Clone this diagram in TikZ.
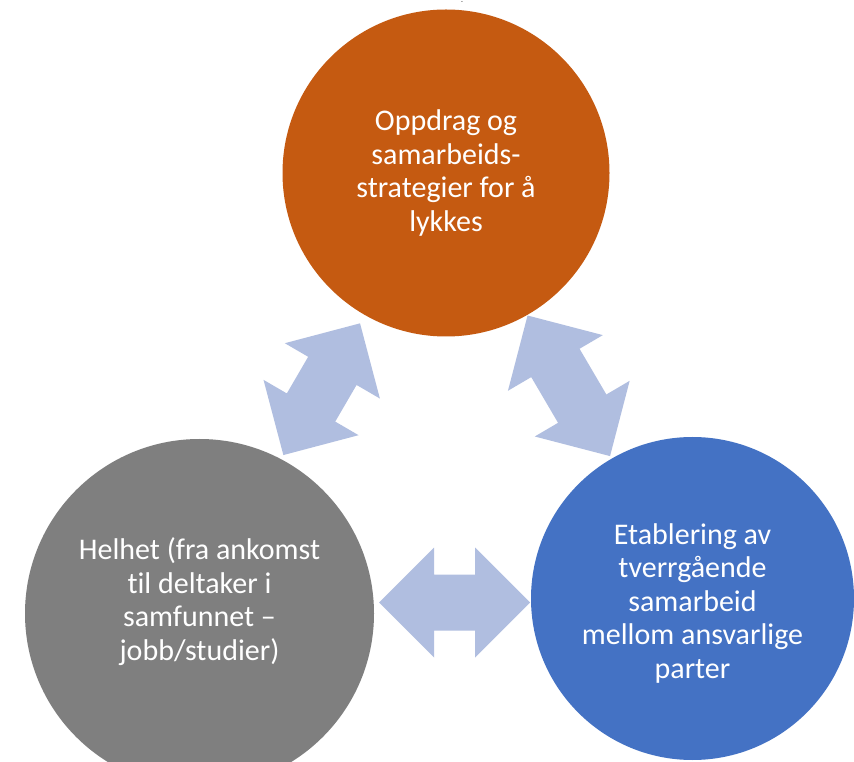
\documentclass[tikz,border=0pt]{standalone}
\usepackage{fontspec}
\setmainfont{Carlito}[RawFeature={-liga}]
\definecolor{orangec}{HTML}{C55A11}
\definecolor{grayc}{HTML}{7F7F7F}
\definecolor{bluec}{HTML}{4472C4}
\definecolor{arrowc}{HTML}{B0BEE0}
\tikzset{
  bubble/.style={circle, inner sep=0pt, draw=none},
  txt/.style={text=white, align=center, inner sep=0pt, font=\fontsize{30}{33.5}\selectfont},
  arrowfill/.style={fill=arrowc, draw=none}
}
% #1,#2 centre, #3 angle, #4 half length
\newcommand\dblarrow[4]{%
  \fill[arrowfill, shift={(#1,#2)}, rotate=#3]
    (#4,0) -- ({#4-55},55) -- ({#4-55},28) -- ({-#4+55},28) -- ({-#4+55},55)
    -- ({-#4},0) -- ({-#4+55},-55) -- ({-#4+55},-28) -- ({#4-55},-28) -- ({#4-55},-55) -- cycle;
}
\begin{document}
\begin{tikzpicture}[x=1pt,y=1pt]
\useasboundingbox (0,0) rectangle (854,761);
\fill[white] (0,0) rectangle (854,761);
% circles
\node[bubble, fill=orangec, minimum size=327pt] (top) at (446,588) {};
\node[bubble, fill=grayc, minimum size=349pt] (gray) at (199.5,147.5) {};
\node[bubble, fill=bluec, minimum size=323pt] (blue) at (692.5,162.5) {};
% double arrows
\dblarrow{321.7}{371.8}{59.8}{76.2}
\dblarrow{568.8}{375.2}{120.4}{81.5}
\dblarrow{454.5}{158.5}{0}{75.5}
% texts
\node[txt] (toptext) at (top.center) {Oppdrag og\\samarbeids-\\strategier for å\\lykkes};
\node[txt] (graytext) at ([yshift=12pt]gray.center) {Helhet (fra ankomst\\til deltaker i\\samfunnet –\\jobb/studier)};
\node[txt] (bluetext) at ([yshift=-5pt]blue.center) {Etablering av\\tverrgående\\samarbeid\\mellom ansvarlige\\parter};
% small mark at top
\node[inner sep=0pt, font=\fontsize{6}{6}\selectfont] (mark) at (462,758) {-};
\end{tikzpicture}
\end{document}
